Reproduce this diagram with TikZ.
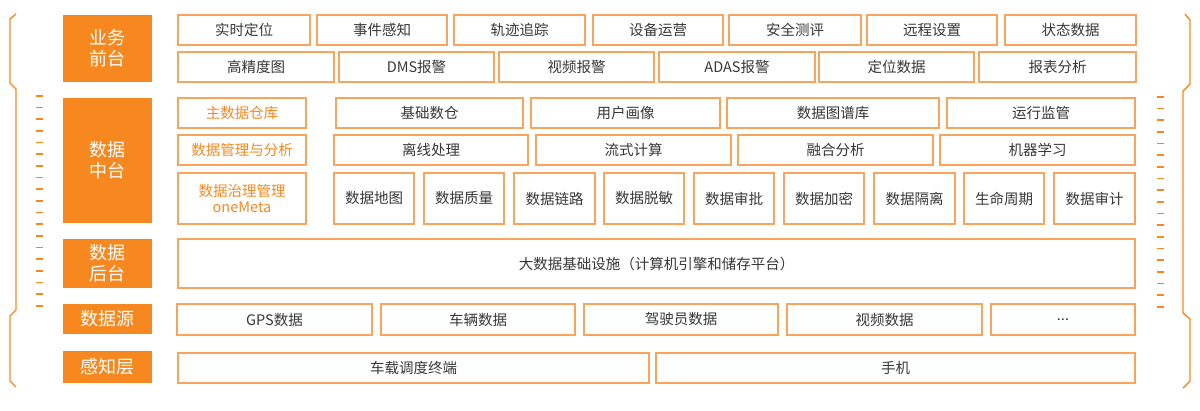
\documentclass[tikz,border=0pt]{standalone}
\usepackage{fontspec}
\setmainfont{Noto Sans CJK SC}
\definecolor{og}{RGB}{247,136,31}
\definecolor{ogline}{RGB}{249,163,92}
\definecolor{txt}{RGB}{55,55,55}
\newcommand\bx[7][]{\node[box,#1,minimum width={#5-#3},minimum height={#6-#4}] (#2) at ({(#3+#5)/2},{(#4+#6)/2}) {#7};}
\begin{document}
\begin{tikzpicture}[x=1pt,y=-1pt,
  box/.style={draw=ogline,line width=1.4pt,inner sep=0pt,outer sep=0pt,text=txt,font=\fontsize{14.5}{16}\selectfont,align=center},
  lbl/.style={fill=og,draw=none,inner sep=0pt,outer sep=0pt,text=white,font=\fontsize{18}{21}\selectfont,align=center},
  ogtxt/.style={text=og},
  brk/.style={draw=og,line width=1.4pt,line join=round},
  dsh/.style={draw=og,line width=1.5pt}]
\useasboundingbox (0,0) rectangle (1200,410);
% brackets
\draw[brk] (16,14) -- (10,19) -- (10,83) -- (16,89) -- (16,310) -- (10,316) -- (10,381) -- (16,387);
\draw[brk] (1185,14) -- (1190,20) -- (1190,84) -- (1183,91) -- (1183,313) -- (1190,319) -- (1190,381) -- (1183,388);
\foreach \y in {96,107.5,119,131,142.5,154,166,177.5,189,201,212.5,224,236,247.5,259,271,282.5,294,306}{
  \draw[dsh] (36,\y) -- (43,\y);
  \draw[dsh] (1157,\y+1) -- (1164,\y+1);
}
% labels
\bx[lbl]{L1}{63}{15}{152}{82}{业务\\前台}
\bx[lbl]{L2}{63}{98}{152}{223}{数据\\中台}
\bx[lbl]{L3}{63}{239}{152}{288}{数据\\后台}
\bx[lbl]{L4}{63}{304}{152}{334}{数据源}
\bx[lbl]{L5}{63}{351}{152}{383}{感知层}
% row 1
\bx{a1}{178}{15}{310}{45}{实时定位}
\bx{a2}{317}{15}{447}{45}{事件感知}
\bx{a3}{454}{15}{585}{45}{轨迹追踪}
\bx{a4}{593}{15}{723}{45}{设备运营}
\bx{a5}{729}{15}{861}{45}{安全测评}
\bx{a6}{867}{15}{997}{45}{远程设置}
\bx{a7}{1005}{15}{1136}{45}{状态数据}
% row 2
\bx{b1}{178}{52}{334}{82}{高精度图}
\bx{b2}{339}{52}{494}{82}{DMS报警}
\bx{b3}{499}{52}{654}{82}{视频报警}
\bx{b4}{659}{52}{815}{82}{ADAS报警}
\bx{b5}{819}{52}{974}{82}{定位数据}
\bx{b6}{979}{52}{1136}{82}{报表分析}
% row 3
\bx[ogtxt]{c0}{178}{98}{306}{128}{主数据仓库}
\bx{c1}{336}{98}{523}{128}{基础数仓}
\bx{c2}{531}{98}{720}{128}{用户画像}
\bx{c3}{727}{98}{939}{128}{数据图谱库}
\bx{c4}{947}{98}{1135}{128}{运行监管}
% row 4
\bx[ogtxt]{d0}{178}{135}{306}{165}{数据管理与分析}
\bx{d1}{334}{135}{528}{165}{离线处理}
\bx{d2}{536}{135}{731}{165}{流式计算}
\bx{d3}{738}{135}{933}{165}{融合分析}
\bx{d4}{940}{135}{1135}{165}{机器学习}
% row 5
\bx[ogtxt]{e0}{178}{173}{306}{224}{数据治理管理\\oneMeta}
\bx{e1}{334}{173}{414}{224}{数据地图}
\bx{e2}{424}{173}{504}{224}{数据质量}
\bx{e3}{514}{173}{595}{224}{数据链路}
\bx{e4}{604}{173}{684}{224}{数据脱敏}
\bx{e5}{694}{173}{774}{224}{数据审批}
\bx{e6}{784}{173}{864}{224}{数据加密}
\bx{e7}{874}{173}{955}{224}{数据隔离}
\bx{e8}{964}{173}{1044}{224}{生命周期}
\bx{e9}{1054}{173}{1135}{224}{数据审计}
% row 6
\bx{f1}{178}{239}{1135}{288}{大数据基础设施（计算机引擎和储存平台）}
% row 7
\bx{g1}{177}{304}{372}{335}{GPS数据}
\bx{g2}{381}{304}{575}{335}{车辆数据}
\bx{g3}{584}{304}{778}{335}{驾驶员数据}
\bx{g4}{787}{304}{982}{335}{视频数据}
\bx{g5}{991}{304}{1135}{335}{...}
% row 8
\bx{h1}{178}{353}{649}{383}{车载调度终端}
\bx{h2}{656}{353}{1135}{383}{手机}
\end{tikzpicture}
\end{document}
